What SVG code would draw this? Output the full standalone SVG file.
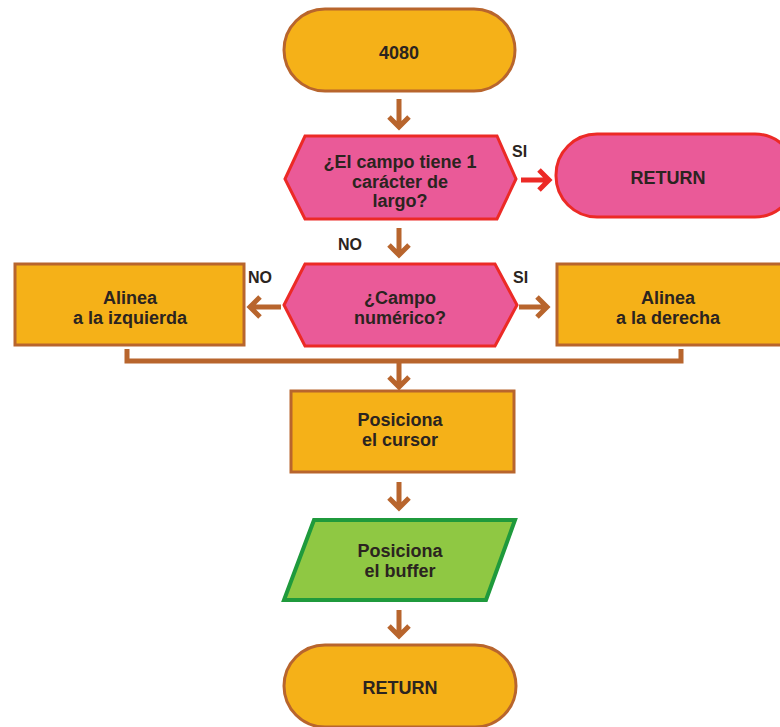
<svg xmlns="http://www.w3.org/2000/svg" width="780" height="727" viewBox="0 0 780 727">
  <style>
    .t { font-family: "Liberation Sans", Arial, sans-serif; font-weight: bold; font-size: 18px; fill: #2b2420; text-anchor: middle; }
    .lbl { font-family: "Liberation Sans", Arial, sans-serif; font-weight: bold; font-size: 16px; fill: #2b2420; }
    .orange { fill: #f5b118; stroke: #b8652d; stroke-width: 3; }
    .pink { fill: #ea5a98; stroke: #ec2a26; stroke-width: 3; }
    .green { fill: #8fc843; stroke: #1f9a3c; stroke-width: 4; }
    .arr { fill: none; stroke: #b8652d; stroke-width: 5; stroke-linejoin: miter; }
    .arr-red { fill: none; stroke: #ec2a26; stroke-width: 5; stroke-linejoin: miter; }
  </style>
  <rect width="780" height="727" fill="#ffffff"/>

  <g id="start">
    <rect class="orange" x="284" y="9" width="231" height="82" rx="41" ry="41"/>
    <text class="t" x="399" y="59">4080</text>
  </g>

  <g id="q-length">
    <polygon class="pink" points="285,179 305,136 497,136 516,179 497,219 305,219"/>
    <text class="t" x="400" y="168">¿El campo tiene 1</text>
    <text class="t" x="400" y="188">carácter de</text>
    <text class="t" x="400" y="207">largo?</text>
  </g>

  <g id="return-early">
    <rect class="pink" x="556" y="134" width="240" height="83" rx="41" ry="41"/>
    <text class="t" x="668" y="184">RETURN</text>
  </g>

  <g id="q-numeric">
    <polygon class="pink" points="284,305 305,264 495,264 517,305 495,346 305,346"/>
    <text class="t" x="400" y="304">¿Campo</text>
    <text class="t" x="400" y="324">numérico?</text>
  </g>

  <g id="align-left">
    <rect class="orange" x="15" y="264" width="229" height="81"/>
    <text class="t" x="130" y="304">Alinea</text>
    <text class="t" x="130" y="324">a la izquierda</text>
  </g>

  <g id="align-right">
    <rect class="orange" x="557" y="264" width="240" height="81"/>
    <text class="t" x="668" y="304">Alinea</text>
    <text class="t" x="668" y="324">a la derecha</text>
  </g>

  <g id="cursor">
    <rect class="orange" x="291" y="391" width="223" height="81"/>
    <text class="t" x="400" y="426">Posiciona</text>
    <text class="t" x="400" y="446">el cursor</text>
  </g>

  <g id="buffer">
    <polygon class="green" points="314,520 515,520 486,600 284,600"/>
    <text class="t" x="400" y="557">Posiciona</text>
    <text class="t" x="400" y="577">el buffer</text>
  </g>

  <g id="end">
    <rect class="orange" x="284" y="645" width="232" height="82" rx="41" ry="41"/>
    <text class="t" x="400" y="694">RETURN</text>
  </g>

  <g id="connectors">
    <path class="arr" d="M399,99 V127 M389,117 L399,127 L409,117"/>
    <path class="arr-red" d="M521,180 H549 M539,170 L549,180 L539,190"/>
    <path class="arr" d="M399,228 V255 M389,245 L399,255 L409,245"/>
    <path class="arr" d="M281,307 H250 M260,297 L250,307 L260,317"/>
    <path class="arr" d="M519,307 H547 M537,297 L547,307 L537,317"/>
    <path class="arr" d="M127,349 V361 H681 V349"/>
    <path class="arr" d="M399,361 V387 M389,377 L399,387 L409,377"/>
    <path class="arr" d="M399,482 V508 M389,498 L399,508 L409,498"/>
    <path class="arr" d="M399,610 V636 M389,626 L399,636 L409,626"/>
  </g>

  <g id="labels">
    <text class="lbl" x="512" y="157">SI</text>
    <text class="lbl" x="338" y="250">NO</text>
    <text class="lbl" x="248" y="283">NO</text>
    <text class="lbl" x="513" y="283">SI</text>
  </g>
</svg>
